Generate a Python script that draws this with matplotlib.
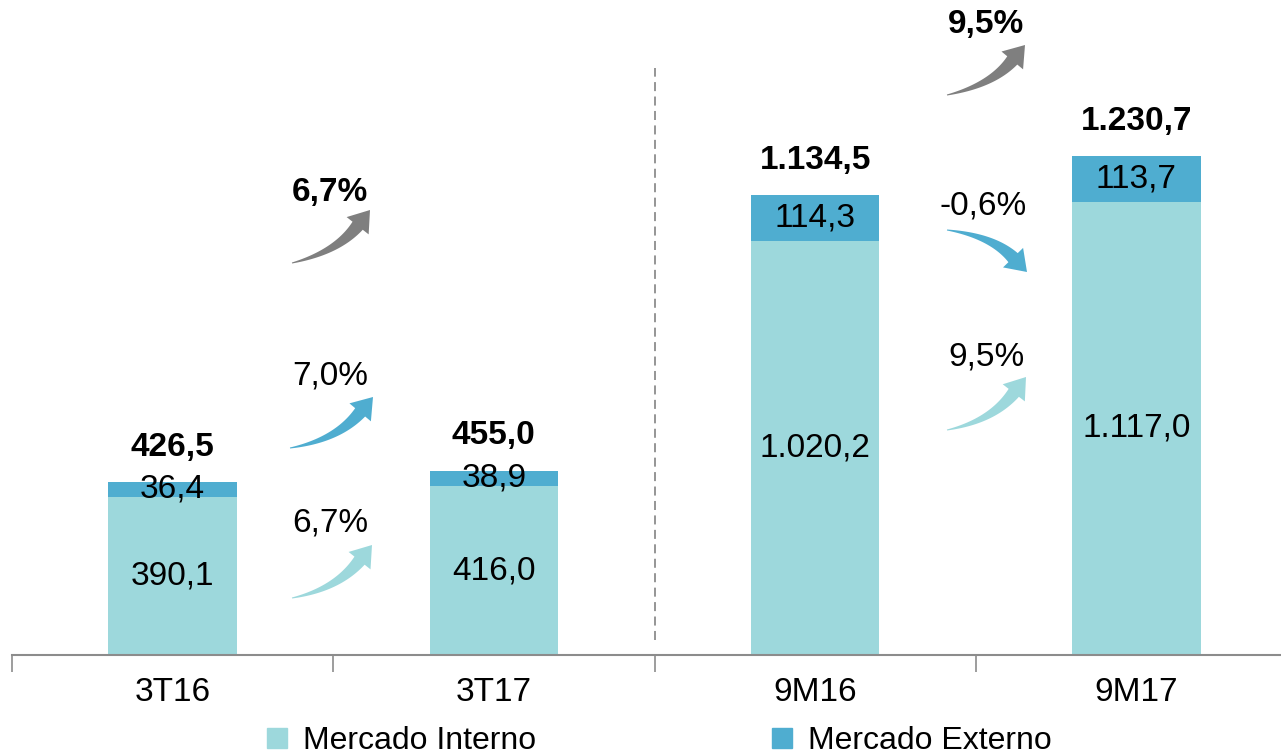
import matplotlib
matplotlib.use('Agg')
import matplotlib.pyplot as plt
from matplotlib.patches import Polygon
from matplotlib.lines import Line2D
import numpy as np

plt.rcParams['font.family'] = ['Liberation Sans', 'DejaVu Sans']

categorias = ['3T16', '3T17', '9M16', '9M17']
interno = [390.1, 416.0, 1020.2, 1117.0]
externo = [36.4, 38.9, 114.3, 113.7]
totais = [426.5, 455.0, 1134.5, 1230.7]
var_total = ['6,7%', '9,5%']
var_externo = ['7,0%', '-0,6%']
var_interno = ['6,7%', '9,5%']

cor_int = '#9dd8dc'
cor_ext = '#4fadd0'
cor_cinza = '#7f7f7f'
fs = 24


def fmt(v):
    s = '{:,.1f}'.format(v)
    return s.replace(',', 'X').replace('.', ',').replace('X', '.')


W, H = 1281, 756
fig = plt.figure(figsize=(W / 100, H / 100), dpi=100)
ax = fig.add_axes([12 / W, 101 / H, 1285 / W, 655 / H])

x = np.arange(len(categorias))
ax.bar(x, interno, width=0.4, color=cor_int, label='Mercado Interno')
ax.bar(x, externo, width=0.4, bottom=interno, color=cor_ext, label='Mercado Externo')

for i in range(len(categorias)):
    ax.text(x[i], interno[i] / 2, fmt(interno[i]), ha='center', va='center', fontsize=fs)
    ax.text(x[i], interno[i] + externo[i] / 2, fmt(externo[i]), ha='center', va='center', fontsize=fs)
    ax.annotate(fmt(totais[i]), (x[i], totais[i]), xytext=(0, 25), textcoords='offset points',
                ha='center', va='center', fontsize=fs, fontweight='bold')

ax.set_xlim(-0.5, 3.5)
ax.set_ylim(0, 1615)
ax.axvline(1.5, ymin=0.023, ymax=0.896, color='#8c8c8c', ls=(0, (5, 3)), lw=1.3)

for s in ['top', 'right', 'left']:
    ax.spines[s].set_visible(False)
ax.spines['bottom'].set_color('#8c8c8c')
ax.spines['bottom'].set_linewidth(1.5)
ax.set_yticks([])
ax.set_xticks(x)
ax.set_xticklabels(categorias, fontsize=fs)
ax.set_xticks([-0.5, 0.5, 1.5, 2.5], minor=True)
ax.tick_params(axis='x', which='major', length=0, pad=16)
ax.tick_params(axis='x', which='minor', length=12, width=1.2, color='#8c8c8c')

handles = [Line2D([], [], marker='s', ls='', color=cor_int, markersize=14),
           Line2D([], [], marker='s', ls='', color=cor_ext, markersize=14)]
fig.legend(handles, ['Mercado Interno', 'Mercado Externo'], loc='center',
           bbox_to_anchor=(658 / W, 1 - 741 / H), ncol=2, frameon=False, fontsize=23,
           handlelength=0.8, handletextpad=0.4, columnspacing=7.3)

# camada em pixels para as setas e percentuais
ov = fig.add_axes([0, 0, 1, 1])
ov.set_xlim(0, W)
ov.set_ylim(H, 0)
ov.axis('off')


def seta(p0, tip, ctrl, cor, w0=1.0, w1=13.0, hw=14.0, hl=20.0):
    p0 = np.array(p0, float)
    tip = np.array(tip, float)
    c = np.array(ctrl, float)
    d = tip - c
    d /= np.hypot(*d)
    p2 = tip - d * hl
    t = np.linspace(0, 1, 40)[:, None]
    pts = (1 - t) ** 2 * p0 + 2 * (1 - t) * t * c + t ** 2 * p2
    tan = 2 * (1 - t) * (c - p0) + 2 * t * (p2 - c)
    tan /= np.hypot(tan[:, 0], tan[:, 1])[:, None]
    nrm = np.column_stack([-tan[:, 1], tan[:, 0]])
    w = (w0 + (w1 - w0) * t) / 2
    lado1 = pts + nrm * w
    lado2 = pts - nrm * w
    n_end = nrm[-1]
    poly = np.vstack([lado1, p2 + n_end * hw, tip, p2 - n_end * hw, lado2[::-1]])
    ov.add_patch(Polygon(poly, closed=True, color=cor, lw=0))


# 3T16 -> 3T17
seta((292, 263), (370, 210), (337, 252), cor_cinza)
seta((290, 448), (373, 397), (337, 440), cor_ext)
seta((292, 598), (372, 545), (337, 589), cor_int)
# 9M16 -> 9M17
seta((947, 95), (1025, 45), (992, 85), cor_cinza)
seta((947, 230), (1027, 272), (992, 236), cor_ext)
seta((947, 430), (1026, 377), (992, 421), cor_int)

ov.text(330, 192, var_total[0], ha='center', va='center', fontsize=fs, fontweight='bold')
ov.text(330, 376, var_externo[0], ha='center', va='center', fontsize=fs)
ov.text(330, 523, var_interno[0], ha='center', va='center', fontsize=fs)
ov.text(986, 25, var_total[1], ha='center', va='center', fontsize=fs, fontweight='bold')
ov.text(983, 206, var_externo[1], ha='center', va='center', fontsize=fs)
ov.text(986, 357, var_interno[1], ha='center', va='center', fontsize=fs)

fig.savefig('out.png', dpi=100)
